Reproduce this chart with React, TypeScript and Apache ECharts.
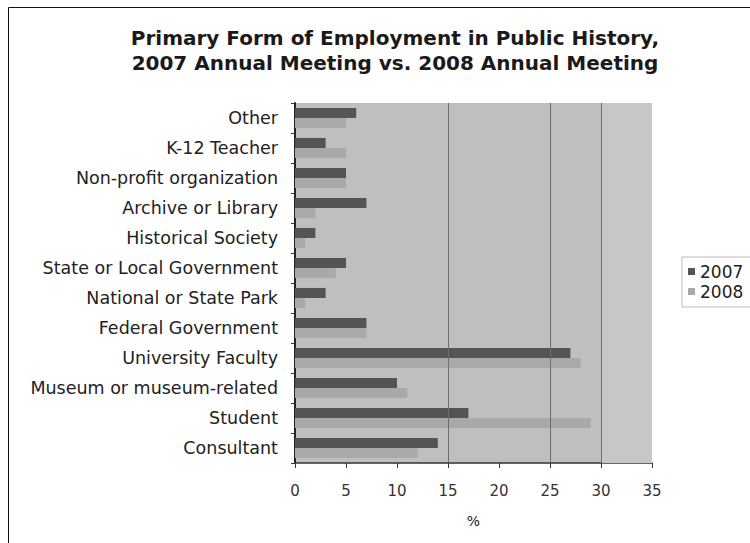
import React, { useEffect, useRef } from "react";
import * as echarts from "echarts";

const categories = [
  "Other",
  "K-12 Teacher",
  "Non-profit organization",
  "Archive or Library",
  "Historical Society",
  "State or Local Government",
  "National or State Park",
  "Federal Government",
  "University Faculty",
  "Museum or museum-related",
  "Student",
  "Consultant",
];
const values2007 = [6, 3, 5, 7, 2, 5, 3, 7, 27, 10, 17, 14];
const values2008 = [5, 5, 5, 2, 1, 4, 1, 7, 28, 11, 29, 12];
const xTicks = [0, 5, 10, 15, 20, 25, 30, 35];
const markedLines = [15, 25, 30];
const lighterBand = [30, 35];

const FONT = "'DejaVu Sans', 'Liberation Sans', Arial, sans-serif";

export default function App() {
  const ref = useRef<HTMLDivElement>(null);
  useEffect(() => {
    if (!ref.current) return;
    const chart = echarts.init(ref.current, undefined, { renderer: "svg" });
    chart.setOption({
      animation: false,
      backgroundColor: "#ffffff",
      textStyle: { fontFamily: FONT },
      title: {
        text: "Primary Form of Employment in Public History,\n2007 Annual Meeting vs. 2008 Annual Meeting",
        left: 390,
        top: 20,
        textAlign: "center",
        textStyle: {
          fontFamily: FONT,
          fontSize: 20,
          fontWeight: "bold",
          color: "#1a1a1a",
          lineHeight: 25,
        },
      },
      graphic: [
        {
          type: "rect",
          shape: { x: 8.5, y: 7.5, width: 800, height: 600 },
          style: { fill: "none", stroke: "#111", lineWidth: 1 },
          silent: true,
        },
      ],
      legend: {
        orient: "vertical",
        left: 682,
        top: 257,
        data: ["2007", "2008"],
        itemWidth: 7,
        itemHeight: 7,
        itemGap: 3,
        icon: "rect",
        borderColor: "#bbb",
        borderWidth: 1,
        padding: [6, 30, 7, 6],
        textStyle: { fontFamily: FONT, fontSize: 17, color: "#222" },
      },
      grid: {
        left: 295,
        top: 103,
        width: 357,
        height: 360,
        show: true,
        backgroundColor: "#bfbfbf",
        borderWidth: 0,
      },
      xAxis: {
        type: "value",
        min: 0,
        max: 35,
        interval: 5,
        name: "%",
        nameLocation: "middle",
        nameGap: 51,
        nameTextStyle: { fontFamily: FONT, fontSize: 14, color: "#222" },
        axisLine: { show: true, lineStyle: { color: "#333", width: 1.5 } },
        axisTick: { show: true, length: 5, lineStyle: { color: "#333" } },
        axisLabel: {
          fontFamily: FONT,
          fontSize: 15,
          color: "#333",
          margin: 20,
          formatter: (v: number) => (xTicks.includes(v) ? String(v) : ""),
        },
        splitLine: { show: false },
      },
      yAxis: {
        type: "category",
        data: categories,
        inverse: true,
        axisLine: { show: true, lineStyle: { color: "#222", width: 2 } },
        axisTick: { show: true, length: 4, lineStyle: { color: "#333" } },
        axisLabel: {
          fontFamily: FONT,
          fontSize: 17.5,
          color: "#222",
          margin: 17,
        },
      },
      series: [
        {
          name: "2007",
          type: "bar",
          data: values2007,
          barGap: "0%",
          barCategoryGap: "33%",
          itemStyle: { color: "#545454" },
          markArea: {
            silent: true,
            itemStyle: { color: "#c7c7c7" },
            data: [[{ xAxis: lighterBand[0] }, { xAxis: lighterBand[1] }]],
          },
          markLine: {
            silent: true,
            symbol: "none",
            label: { show: false },
            lineStyle: { color: "#6e6e6e", type: "solid", width: 1 },
            data: markedLines.map((v) => ({ xAxis: v })),
          },
        },
        {
          name: "2008",
          type: "bar",
          data: values2008,
          itemStyle: { color: "#a9a9a9" },
        },
      ],
    });
    return () => chart.dispose();
  }, []);
  return (
    <div
      ref={ref}
      style={{ position: "absolute", left: 0, top: 0, width: 750, height: 543 }}
    />
  );
}
